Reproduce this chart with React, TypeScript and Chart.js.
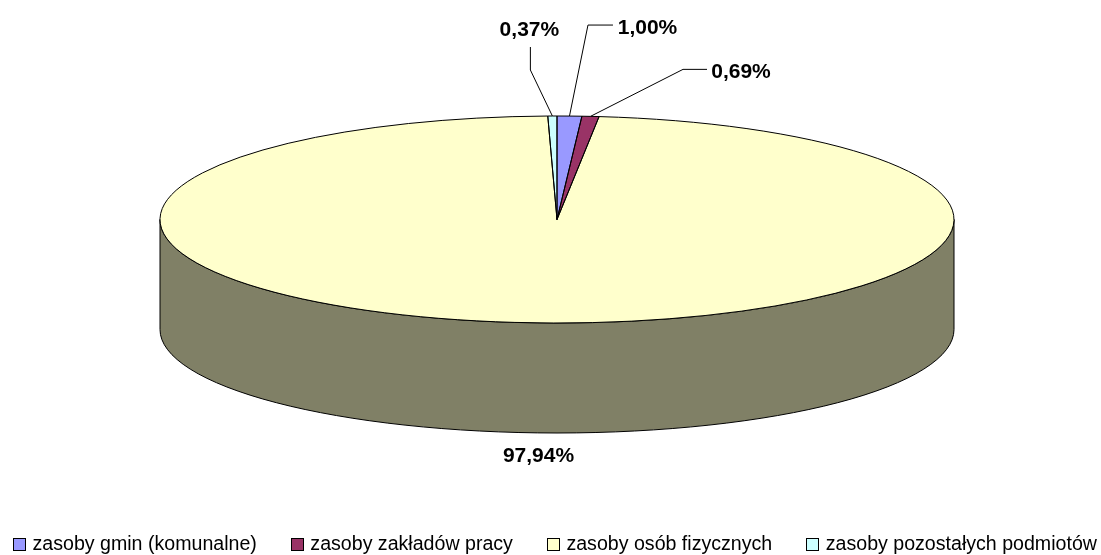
import React, { useEffect, useRef } from "react";
import { Chart, registerables } from "chart.js";

Chart.register(...registerables);

const categories = [
  "zasoby gmin (komunalne)",
  "zasoby zakładów pracy",
  "zasoby osób fizycznych",
  "zasoby pozostałych podmiotów",
];
const shares = [1.0, 0.69, 97.94, 0.37];
const valueLabels = ["1,00%", "0,69%", "97,94%", "0,37%"];
const sliceColors = ["#9999FF", "#993366", "#FFFFCC", "#CCFFFF"];
const wallColors = ["#4C4C80", "#4C1933", "#808066", "#668080"];

// Offsets of the callouts relative to the point of the rim at each slice's mid-angle.
const calloutOffsets = [
  { line: [[18.5, -91], [43.5, -91]], text: [78, -88] },
  { line: [[92.5, -47], [116.5, -47]], text: [150.5, -44.5] },
  { line: [], text: [-2, 133] },
  { line: [[-22, -46], [-22, -69]], text: [-23, -86] },
];

const PIE_X = 557;
const PIE_Y = 219.5;
const RADIUS = 397;
const SQUASH = 103.5 / 397;
const DEPTH = 110;
const LEGEND_ROW_Y = 545;
const LEGEND_LEFT = 13;
const INK = "#000000";

function sliceGeom(el: any) {
  return el.getProps(["x", "y", "startAngle", "endAngle", "outerRadius"], true);
}

const pie3d = {
  id: "pie3d",
  afterUpdate(chart: any) {
    // slide the legend to its row near the bottom edge
    const lg = chart.legend;
    const first = lg.legendHitBoxes[0];
    const dy = LEGEND_ROW_Y - (first.top + first.height / 2);
    const dx = LEGEND_LEFT - first.left;
    lg.top += dy;
    lg.bottom += dy;
    lg.left += dx;
    lg.right += dx;
    lg.legendHitBoxes.forEach((b: any) => {
      b.top += dy;
      b.left += dx;
    });
  },
  beforeDatasetsDraw(chart: any) {
    const ctx = chart.ctx;
    const arcs = chart.getDatasetMeta(0).data;
    ctx.save();
    ctx.lineWidth = 1;
    ctx.strokeStyle = INK;
    arcs.forEach((el: any, i: number) => {
      const g = sliceGeom(el);
      // keep only the front half of the rim
      for (const shift of [0, 2 * Math.PI]) {
        const a = Math.max(g.startAngle + shift, 0);
        const b = Math.min(g.endAngle + shift, Math.PI);
        if (b <= a) continue;
        ctx.beginPath();
        ctx.ellipse(PIE_X, PIE_Y, g.outerRadius, g.outerRadius * SQUASH, 0, a, b);
        ctx.ellipse(PIE_X, PIE_Y + DEPTH, g.outerRadius, g.outerRadius * SQUASH, 0, b, a, true);
        ctx.closePath();
        ctx.fillStyle = wallColors[i];
        ctx.fill();
        ctx.stroke();
      }
    });
    ctx.restore();
    const first = sliceGeom(arcs[0]);
    ctx.save();
    ctx.translate(PIE_X, PIE_Y);
    ctx.scale(1, SQUASH);
    ctx.translate(-first.x, -first.y);
  },
  afterDatasetsDraw(chart: any) {
    const ctx = chart.ctx;
    ctx.restore();
    const arcs = chart.getDatasetMeta(0).data;
    ctx.save();
    ctx.lineWidth = 1;
    ctx.strokeStyle = INK;
    arcs.forEach((el: any) => {
      const g = sliceGeom(el);
      ctx.beginPath();
      ctx.moveTo(PIE_X, PIE_Y);
      ctx.ellipse(PIE_X, PIE_Y, g.outerRadius, g.outerRadius * SQUASH, 0, g.startAngle, g.endAngle);
      ctx.closePath();
      ctx.stroke();
    });
    ctx.font = "bold 21px 'Liberation Sans', Arial, sans-serif";
    ctx.textAlign = "center";
    ctx.textBaseline = "middle";
    ctx.fillStyle = INK;
    arcs.forEach((el: any, i: number) => {
      const g = sliceGeom(el);
      const mid = (g.startAngle + g.endAngle) / 2;
      const ax = PIE_X + g.outerRadius * Math.cos(mid);
      const ay = PIE_Y + g.outerRadius * SQUASH * Math.sin(mid);
      const c = calloutOffsets[i];
      if (c.line.length) {
        ctx.beginPath();
        ctx.moveTo(ax, ay);
        c.line.forEach(([dx, dy]) => ctx.lineTo(ax + dx, ay + dy));
        ctx.stroke();
      }
      ctx.fillText(valueLabels[i], ax + c.text[0], ay + c.text[1]);
    });
    ctx.restore();
  },
  afterDraw(chart: any) {
    const ctx = chart.ctx;
    const boxes = chart.legend.legendHitBoxes;
    ctx.save();
    ctx.lineWidth = 1;
    ctx.strokeStyle = INK;
    boxes.forEach((b: any, i: number) => {
      const x = Math.round(b.left) + 0.5;
      const y = Math.round(b.top + b.height / 2 - 7) + 0.5;
      ctx.fillStyle = sliceColors[i];
      ctx.fillRect(x, y, 12, 12);
      ctx.strokeRect(x, y, 12, 12);
    });
    ctx.restore();
  },
};

export default function App() {
  const ref = useRef<HTMLCanvasElement>(null);
  useEffect(() => {
    const chart = new Chart(ref.current as HTMLCanvasElement, {
      type: "pie",
      data: {
        labels: categories,
        datasets: [
          {
            data: shares,
            backgroundColor: sliceColors,
            borderWidth: 0,
            clip: false,
          } as any,
        ],
      },
      plugins: [pie3d],
      options: {
        animation: false,
        responsive: false,
        radius: RADIUS,
        rotation: 0,
        plugins: {
          tooltip: { enabled: false },
          title: { display: false },
          legend: {
            display: true,
            position: "bottom",
            align: "start",
            labels: {
              boxWidth: 9.7,
              boxHeight: 12,
              padding: 34,
              color: INK,
              font: { family: "'Liberation Sans', Arial, sans-serif", size: 19.6 },
              generateLabels: () =>
                categories.map((text, index) => ({
                  text,
                  index,
                  fillStyle: "rgba(0,0,0,0)",
                  strokeStyle: "rgba(0,0,0,0)",
                  lineWidth: 0,
                  hidden: false,
                })),
            },
          },
        },
      } as any,
    });
    return () => chart.destroy();
  }, []);
  return (
    <div style={{ position: "absolute", left: 0, top: 0, width: 1101, height: 555, overflow: "hidden", background: "#fff" }}>
      <canvas ref={ref} width={1240} height={555} style={{ display: "block" }} />
    </div>
  );
}
